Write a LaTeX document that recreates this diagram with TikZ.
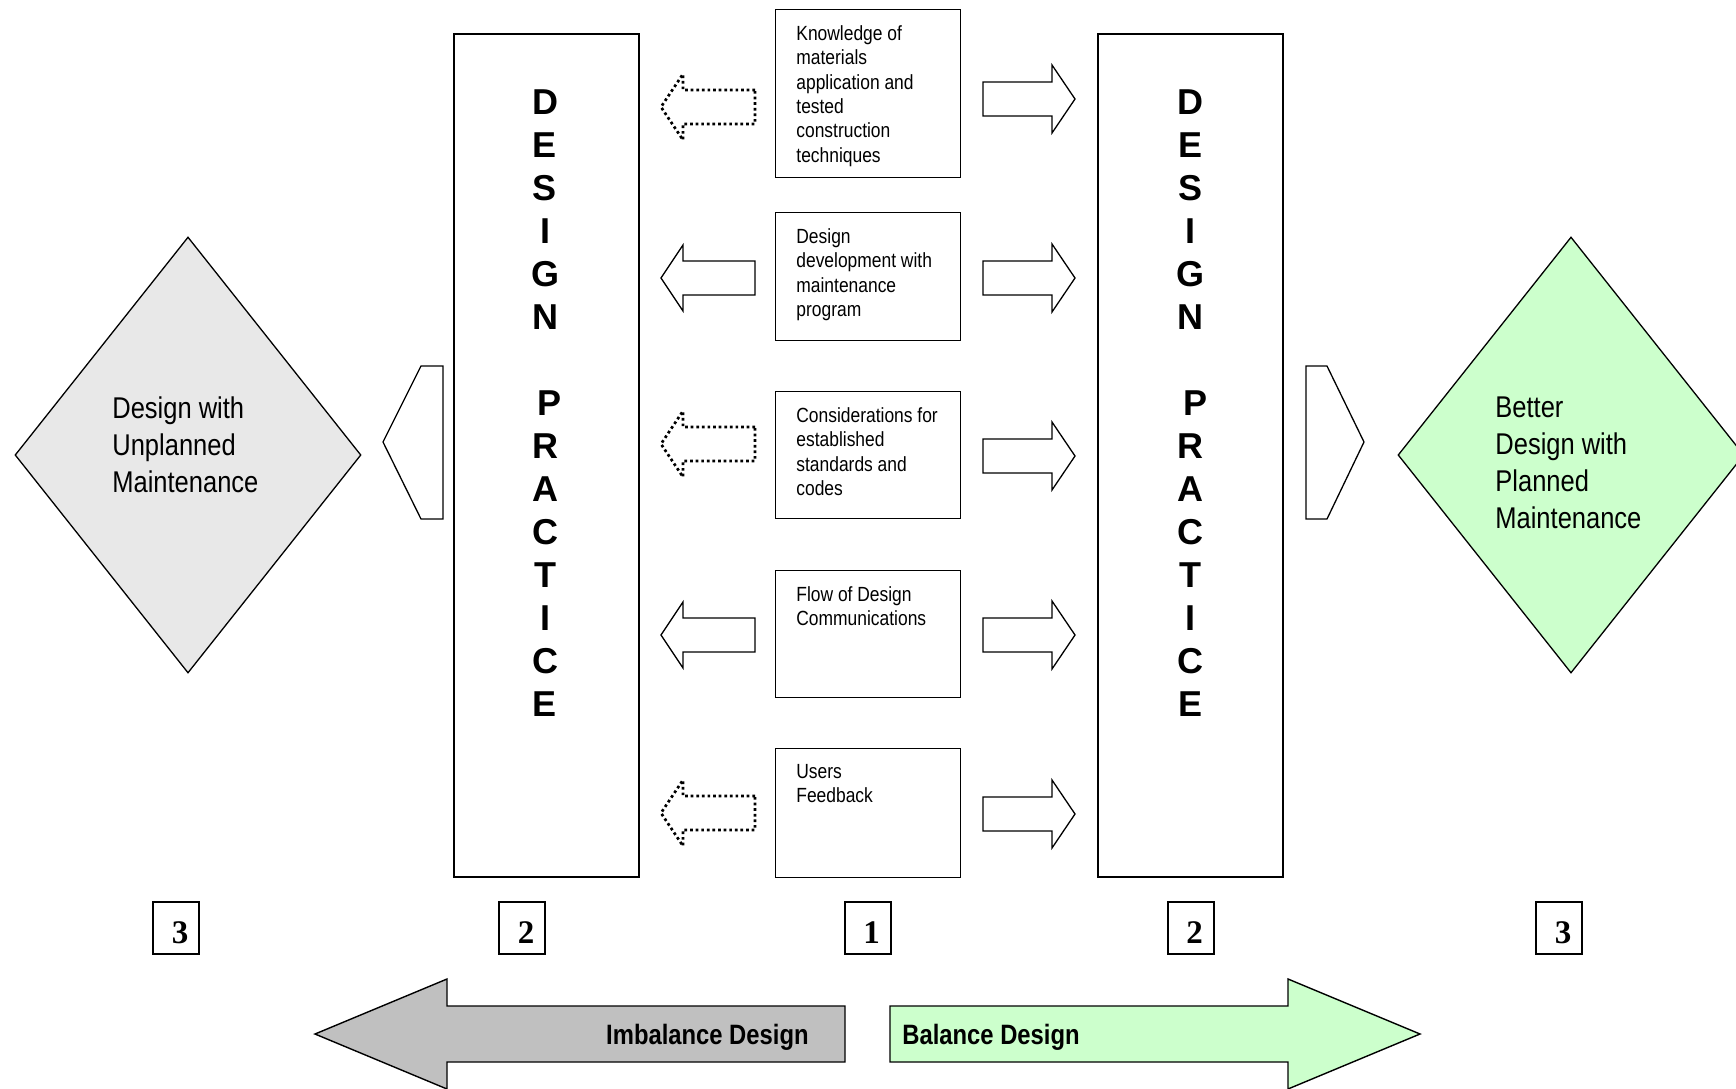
\documentclass[tikz,border=0pt]{standalone}
\usepackage{fontspec}
\setmainfont{Liberation Sans}
\newfontfamily\narrowsf{Liberation Sans}[FakeStretch=0.85]
\newfontfamily\numserif{Liberation Serif}
\usetikzlibrary{shapes.geometric,positioning}
\definecolor{light_gray}{RGB}{232,232,232}
\definecolor{light_green}{RGB}{204,255,204}
\definecolor{mid_gray}{RGB}{192,192,192}

\begin{document}
\begin{tikzpicture}[
      x=0.5pt, y=-0.5pt,
      infobox/.style={
         draw=black,
         line width=0.7pt,
         minimum width=92.5pt,
         anchor=north west,
         inner sep=0pt},
      infotext/.style={
         inner sep=0pt,
         align=left,
         font=\narrowsf\fontsize{10.25}{12.2}\selectfont},
      practice/.style={
         draw=black,
         line width=1pt,
         minimum width=92.5pt,
         minimum height=421.5pt,
         anchor=north west,
         inner sep=0pt},
      vword/.style={
         align=center,
         inner sep=0pt,
         font=\bfseries\fontsize{18}{21.5}\selectfont},
      outcome/.style={
         diamond,
         draw=black,
         line width=0.65pt,
         minimum width=173pt,
         minimum height=218pt,
         inner sep=0pt},
      outtext/.style={
         anchor=north west,
         inner sep=0pt,
         align=left,
         font=\narrowsf\fontsize{15}{18.6}\selectfont},
      numbox/.style={
         draw=black,
         line width=1pt,
         minimum width=23pt,
         minimum height=26pt,
         text height=15pt,
         text depth=0pt,
         inner sep=0pt,
         font=\numserif\bfseries\fontsize{16.5}{16.5}\selectfont},
      bigtext/.style={
         inner sep=0pt,
         font=\narrowsf\bfseries\fontsize{14}{14}\selectfont},
      arrow_solid/.style={
        draw=black,
        line width=0.65pt,
        fill=white},
      arrow_dotted/.style={
        draw=black,
        line width=1.35pt,
        dash pattern=on 1.35pt off 1.45pt},
      big_arrow/.style={
        draw=black,
        line width=0.7pt},
      ]
      \useasboundingbox (0,0) rectangle (1736,1088);

      % outcomes
      \node[outcome,fill=light_gray] (unplanned) at (188,455) {};
      \node[outtext] (unplanned_txt) at (112,396) {Design with\\Unplanned\\Maintenance};
      \node[outcome,fill=light_green] (planned) at (1571,455) {};
      \node[outtext] (planned_txt) at (1495,396) {Better\\Design with\\Planned\\Maintenance};

      % design practice columns
      \node[practice] (left_practice) at (453,33) {};
      \node[practice] (right_practice) at (1097,33) {};
      \foreach \c/\x in {left/545, right/1190}
        \node[vword] (\c_word) at (\x,403)
          {D\\E\\S\\I\\G\\N\\[21.5pt]\hspace*{5pt}P\\R\\A\\C\\T\\I\\C\\E};

      %%% info boxes
      \foreach \n/\t/\h/\txt in {% name/top/height/text
        1/9/84/{Knowledge of\\materials\\application and\\tested\\construction\\techniques},
        2/212/64/{Design\\development with\\maintenance\\program},
        3/391/63.5/{Considerations for\\established\\standards and\\codes},
        4/570/63.5/{Flow of Design\\Communications},
        5/748/64.5/{Users\\Feedback}}
      {
        \node[infobox,minimum height=\h pt] (info\n) at (775,\t) {};
        \node[infotext,below right=8pt and 10.5pt of info\n.north west] (info\n_txt) {\txt};
      }

      %%% small block arrows
      \foreach \ly/\ry/\ls in {% left y/right y/left style
        107/99/arrow_dotted,
        278/278/arrow_solid,
        444/456/arrow_dotted,
        635/635/arrow_solid,
        813/814/arrow_dotted}
      {
        \draw[\ls] (755,\ly-17) -- (683,\ly-17) -- (683,\ly-33) -- (661,\ly)
          -- (683,\ly+33) -- (683,\ly+17) -- (755,\ly+17) -- cycle;
        \draw[arrow_solid] (983,\ry-17) -- (1052,\ry-17) -- (1052,\ry-34) -- (1075,\ry)
          -- (1052,\ry+34) -- (1052,\ry+17) -- (983,\ry+17) -- cycle;
      }

      % pointers to outcomes
      \draw[arrow_solid] (443,366) -- (421,366) -- (383,442) -- (421,519) -- (443,519) -- cycle;
      \draw[arrow_solid] (1306,366) -- (1327,366) -- (1364,442) -- (1327,519) -- (1306,519) -- cycle;

      % numbers
      \foreach \n/\x/\d in {a/176/3, b/522/2, c/867.5/1, d/1190.5/2, e/1559/3}
        \node[numbox] (num_\n) at (\x,928) {\hspace*{4pt}\d};

      % bottom arrows
      \draw[big_arrow,fill=mid_gray] (845,1006) -- (447,1006) -- (447,979) -- (315,1034)
        -- (447,1089) -- (447,1062) -- (845,1062) -- cycle;
      \draw[big_arrow,fill=light_green] (890,1006) -- (1288,1006) -- (1288,979) -- (1420,1034)
        -- (1288,1089) -- (1288,1062) -- (890,1062) -- cycle;
      \node[bigtext,anchor=base east] (imbalance) at (809,1044) {Imbalance Design};
      \node[bigtext,anchor=base west] (balance) at (902,1044) {Balance Design};
    \end{tikzpicture}
\end{document}
